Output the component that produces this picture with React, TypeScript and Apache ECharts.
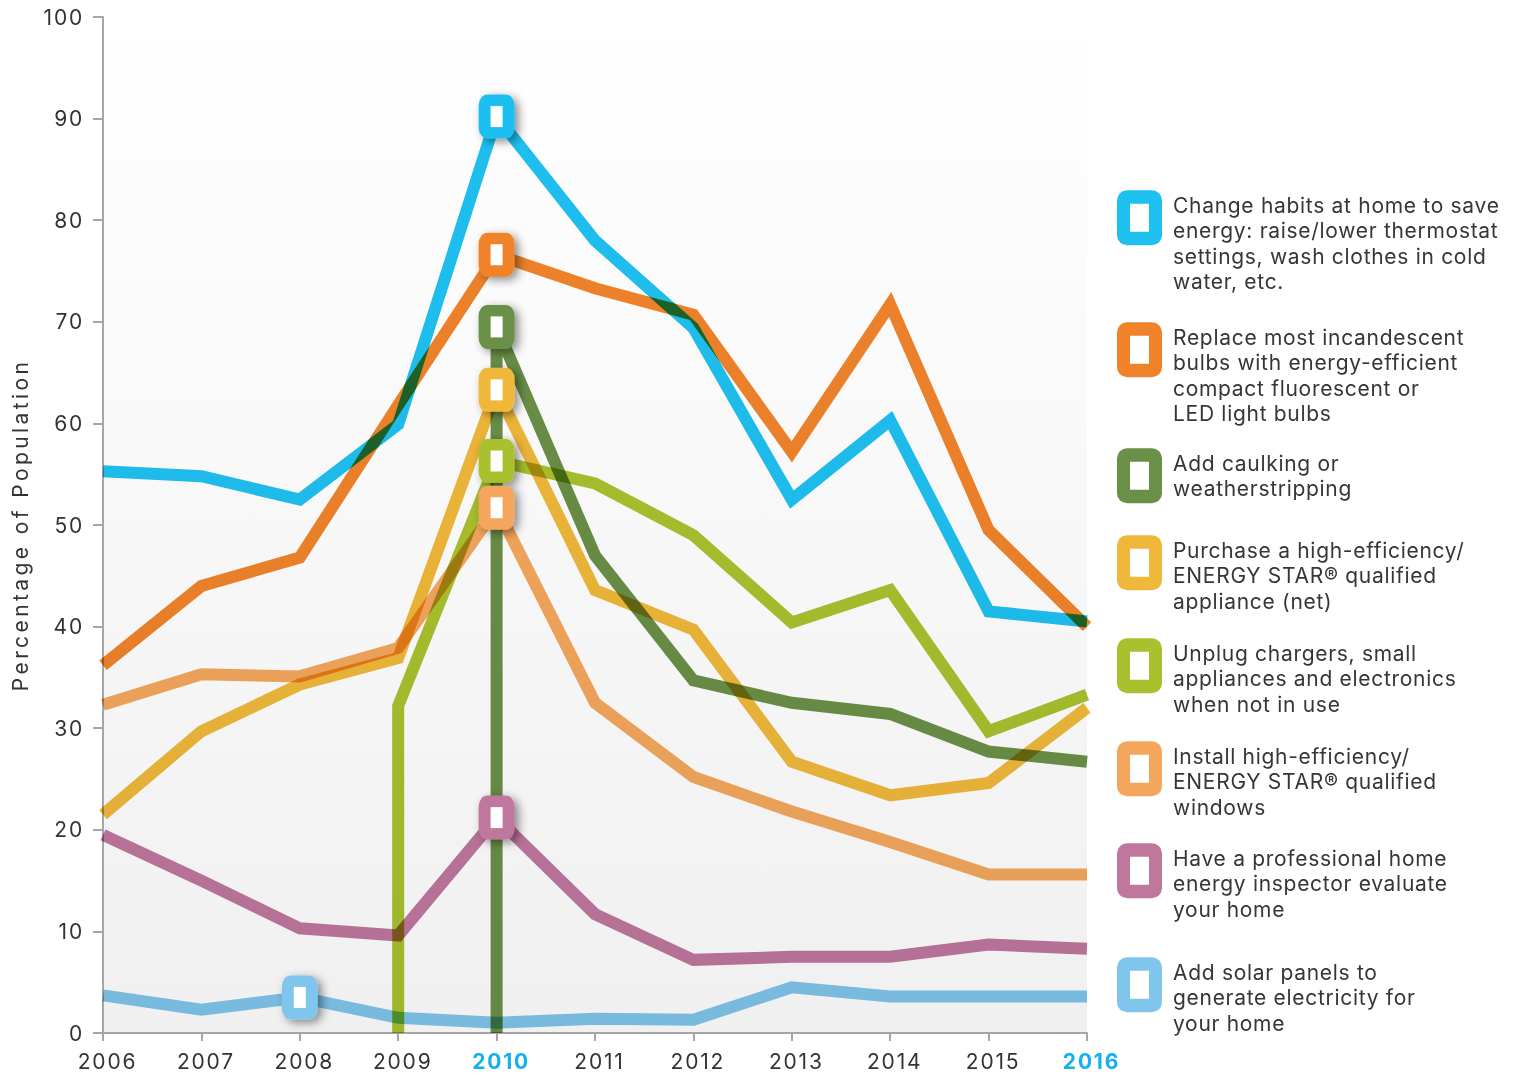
import React, { useEffect, useRef } from "react";
import * as echarts from "echarts";

const years = [2006, 2007, 2008, 2009, 2010, 2011, 2012, 2013, 2014, 2015, 2016];
const unplugYears = [2009, 2009, 2010, 2011, 2012, 2013, 2014, 2015, 2016];
const caulkingYears = [2010, 2010, 2011, 2012, 2013, 2014, 2015, 2016];

const changeHabits = [55.3, 54.8, 52.5, 59.9, 90.2, 78.0, 69.4, 52.5, 60.3, 41.5, 40.5];
const replaceBulbs = [36.2, 44.0, 46.8, 61.8, 76.6, 73.3, 70.7, 57.2, 71.7, 49.5, 40.0];
const caulking = [0, 69.5, 47.0, 34.7, 32.5, 31.4, 27.7, 26.7];
const appliance = [21.5, 29.7, 34.3, 36.9, 63.3, 43.6, 39.7, 26.7, 23.4, 24.6, 32.0];
const unplug = [0, 32.2, 56.3, 54.1, 49.0, 40.4, 43.6, 29.7, 33.3];
const windows = [32.3, 35.3, 35.1, 37.9, 51.7, 32.5, 25.2, 21.8, 18.8, 15.6, 15.6];
const inspector = [19.5, 15.0, 10.3, 9.6, 21.2, 11.7, 7.2, 7.5, 7.5, 8.7, 8.3];
const solar = [3.7, 2.3, 3.5, 1.5, 1.0, 1.4, 1.3, 4.5, 3.6, 3.6, 3.6];

const yTicks = [0, 10, 20, 30, 40, 50, 60, 70, 80, 90, 100];
const highlightYears = [2010, 2016];
const yAxisName = "Percentage of Population";

const seriesNames = [
  "Change habits at home to save\nenergy: raise/lower thermostat\nsettings, wash clothes in cold\nwater, etc.",
  "Replace most incandescent\nbulbs with energy-efficient\ncompact fluorescent or\nLED light bulbs",
  "Add caulking or\nweatherstripping",
  "Purchase a high-efficiency/\nENERGY STAR® qualified\nappliance (net)",
  "Unplug chargers, small\nappliances and electronics\nwhen not in use",
  "Install high-efficiency/\nENERGY STAR® qualified\nwindows",
  "Have a professional home\nenergy inspector evaluate\nyour home",
  "Add solar panels to\ngenerate electricity for\nyour home",
];
const seriesColors = ["#1ec0f0", "#f0832a", "#6a8f47", "#f0b83a", "#a9c12e", "#f4a75c", "#c0779e", "#80c6ec"];
const seriesX = [years, years, caulkingYears, years, unplugYears, years, years, years];
const seriesY = [changeHabits, replaceBulbs, caulking, appliance, unplug, windows, inspector, solar];
const markerYears = [2010, 2010, 2010, 2010, 2010, 2010, 2010, 2008];

// legend layout (first line centre y)
const legendFirstLineY = [205, 337, 463, 550, 653, 756, 858, 972];

const FONT = 'Inter, "Open Sans", sans-serif';

export default function App() {
  const ref = useRef<HTMLDivElement>(null);
  useEffect(() => {
    document.body.style.margin = "0";
    const el = ref.current!;
    const chart = echarts.init(el, null, { renderer: "svg" });

    const lineSeries = seriesNames.map((name, i) => ({
      name,
      type: "line",
      data: seriesX[i].map((x, j) => [x, seriesY[i][j]]),
      symbol: "none",
      clip: true,
      z: 2,
      lineStyle: { color: seriesColors[i], width: 12, cap: "butt", join: "miter" },
      itemStyle: { color: seriesColors[i] },
    }));

    const markerData = seriesNames.map((_, i) => {
      let val = 0;
      seriesX[i].forEach((x, j) => {
        if (x === markerYears[i]) val = seriesY[i][j];
      });
      return { value: [markerYears[i], val], itemStyle: { color: seriesColors[i] } };
    });

    const lineH = 25.5;
    const graphics: any[] = [];
    seriesNames.forEach((name, i) => {
      const L = legendFirstLineY[i];
      const cy = L + 12.75;
      graphics.push({
        type: "rect",
        shape: { x: 1117, y: cy - 27.5, width: 45, height: 55, r: 10 },
        style: { fill: seriesColors[i] },
        z: 10,
      });
      graphics.push({
        type: "rect",
        shape: { x: 1139.5 - 9.5, y: cy - 14, width: 19, height: 28 },
        style: { fill: "#ffffff" },
        z: 11,
      });
      graphics.push({
        type: "text",
        x: 1173,
        y: L - lineH / 2,
        style: {
          text: name,
          font: `21px ${FONT}`,
          lineHeight: lineH,
          fill: "#363636",
          verticalAlign: "top",
        },
        z: 10,
      });
    });

    chart.setOption({
      animation: false,
      backgroundColor: "#ffffff",
      textStyle: { fontFamily: FONT },
      grid: {
        left: 103,
        right: 428,
        top: 17,
        bottom: 42,
        show: true,
        borderWidth: 0,
        containLabel: false,
        outerBoundsMode: "none",
        backgroundColor: new echarts.graphic.LinearGradient(0, 0, 0, 1, [
          { offset: 0, color: "#ffffff" },
          { offset: 0.14, color: "#fdfdfd" },
          { offset: 1, color: "#f0f0f0" },
        ]),
      },
      xAxis: {
        type: "value",
        min: years[0],
        max: years[years.length - 1],
        interval: 1,
        axisLine: { show: true, onZero: false, lineStyle: { color: "#a6a6a6", width: 2 } },
        axisTick: { show: true, length: 8, lineStyle: { color: "#a6a6a6", width: 2 } },
        splitLine: { show: false },
        axisLabel: {
          margin: 18,
          fontSize: 21,
          color: "#333333",
          fontFamily: FONT,
          padding: [0, 0, 0, 9],
          formatter: (v: number) => (highlightYears.includes(v) ? `{hl|${v}}` : `${v}`),
          rich: {
            hl: { color: "#16b0ea", fontWeight: "bold", fontSize: 21, fontFamily: FONT },
          },
        },
      },
      yAxis: {
        type: "value",
        min: yTicks[0],
        max: yTicks[yTicks.length - 1],
        interval: 10,
        name: yAxisName,
        nameLocation: "middle",
        nameGap: 72,
        nameTextStyle: { fontSize: 21, color: "#333333", fontFamily: FONT },
        axisLine: { show: true, lineStyle: { color: "#a6a6a6", width: 2 } },
        axisTick: { show: true, length: 10, lineStyle: { color: "#a6a6a6", width: 2 } },
        splitLine: { show: false },
        axisLabel: { margin: 19, fontSize: 21, color: "#333333", fontFamily: FONT },
      },
      series: [
        ...lineSeries,
        {
          type: "scatter",
          data: markerData,
          symbol: "roundRect",
          symbolSize: [36, 44],
          clip: false,
          z: 5,
          itemStyle: {
            opacity: 1,
            shadowBlur: 10,
            shadowColor: "rgba(0,0,0,0.45)",
            shadowOffsetX: 4,
            shadowOffsetY: 3,
          },
          silent: true,
        },
        {
          type: "scatter",
          data: markerData.map((m) => m.value),
          symbol: "rect",
          symbolSize: [12, 21],
          clip: false,
          z: 6,
          itemStyle: { color: "#ffffff", opacity: 1 },
          silent: true,
        },
      ],
      graphic: graphics,
    });

    const applySpacing = () => {
      el.querySelectorAll("text").forEach((t) => {
        const s = (t.textContent || "").trim();
        let sp = "0.7px";
        if (s === yAxisName) sp = "3.4px";
        else if (/^\d+$/.test(s)) sp = "1.8px";
        (t as SVGTextElement).style.letterSpacing = sp;
      });
    };
    chart.on("finished", applySpacing);
    const raf = requestAnimationFrame(applySpacing);
    const tm = setTimeout(applySpacing, 60);
    return () => {
      cancelAnimationFrame(raf);
      clearTimeout(tm);
      chart.dispose();
    };
  }, []);
  return (
    <>
      <style>{`.mult svg g[clip-path], .mult path[stroke-width="12"]{mix-blend-mode:multiply}`}</style>
      <div className="mult" ref={ref} style={{ width: 1515, height: 1075 }} />
    </>
  );
}
